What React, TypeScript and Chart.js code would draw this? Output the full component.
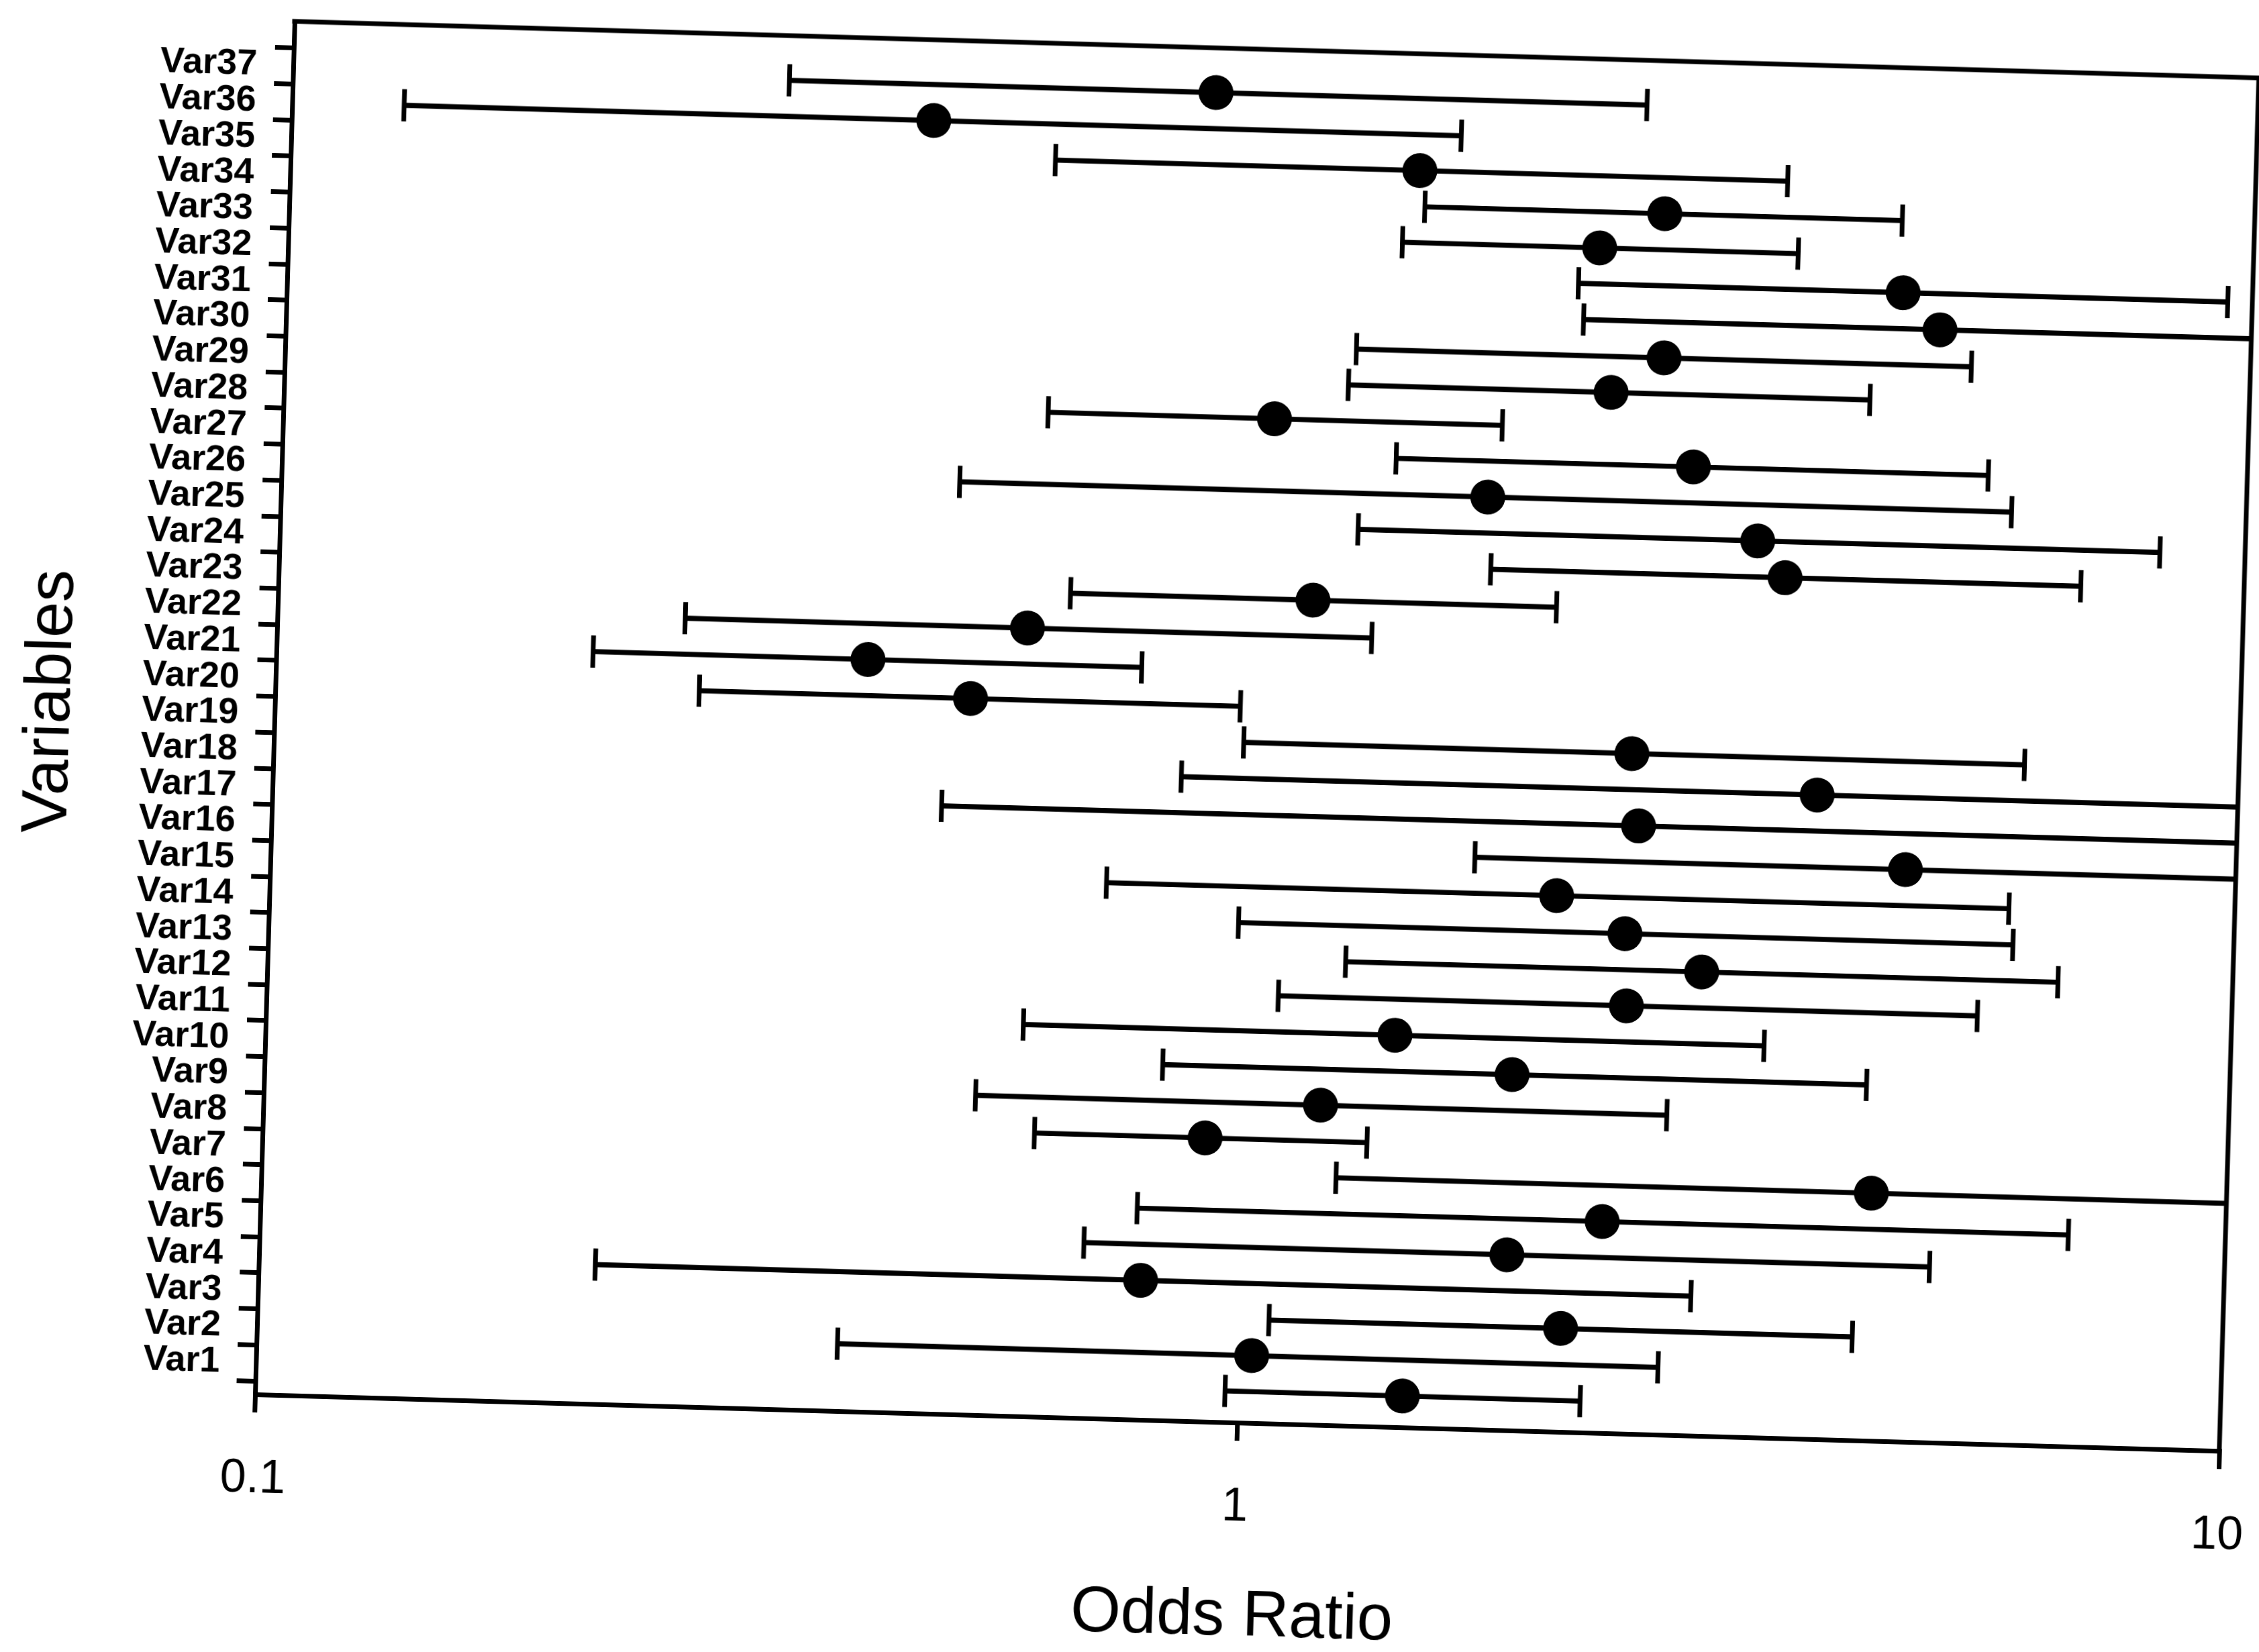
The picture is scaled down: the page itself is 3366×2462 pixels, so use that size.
import React, { useEffect, useRef } from "react";
import { Chart, registerables } from "chart.js";

Chart.register(...registerables);

// Variables, bottom (Var1) to top (Var37)
const CATEGORIES = [
  "Var1", "Var2", "Var3", "Var4", "Var5", "Var6", "Var7", "Var8", "Var9", "Var10",
  "Var11", "Var12", "Var13", "Var14", "Var15", "Var16", "Var17", "Var18", "Var19", "Var20",
  "Var21", "Var22", "Var23", "Var24", "Var25", "Var26", "Var27", "Var28", "Var29", "Var30",
  "Var31", "Var32", "Var33", "Var34", "Var35", "Var36", "Var37",
];

const ODDS_RATIO = [
  1.47, 1.03, 2.12, 0.79, 1.86, 2.32, 4.35, 0.91, 1.19, 1.86,
  1.41, 2.42, 2.88, 2.40, 2.04, 4.61, 2.46, 3.73, 2.41, 0.51,
  0.40, 0.58, 1.13, 3.41, 3.19, 1.69, 2.73, 1.02, 2.24, 2.53,
  4.82, 4.41, 2.16, 2.51, 1.41, 0.45, 0.87,
];

const CI_LOWER = [
  0.97, 0.39, 1.07, 0.22, 0.69, 0.78, 1.24, 0.61, 0.53, 0.82,
  0.59, 1.07, 1.25, 0.97, 0.71, 1.68, 0.48, 0.84, 0.97, 0.27,
  0.21, 0.26, 0.64, 1.71, 1.25, 0.49, 1.36, 0.60, 1.21, 1.23,
  2.09, 2.06, 1.36, 1.43, 0.60, 0.13, 0.32,
];

// 12 = interval runs past the right edge of the axis (truncated in the figure)
const CI_UPPER = [
  2.23, 2.67, 4.20, 2.87, 5.01, 6.92, 12, 1.33, 2.68, 4.27,
  3.35, 5.51, 6.64, 5.96, 5.89, 12, 12, 12, 6.05, 0.96,
  0.76, 1.30, 2.00, 6.82, 8.19, 5.77, 5.45, 1.74, 4.11, 5.20,
  12, 9.44, 3.44, 4.38, 3.34, 1.55, 2.39,
];

const X_TICKS = [0.1, 1, 10];
const X_TICK_LABELS = ["0.1", "1", "10"];

const FONT = "'Liberation Sans', Arial, Helvetica, sans-serif";

export default function App() {
  const ref = useRef<HTMLCanvasElement | null>(null);

  useEffect(() => {
    if (!ref.current) return;
    const rows = CATEGORIES.map((_, i) => i + 1);

    const framePlugin = {
      id: "frame",
      afterDatasetsDraw(chart: any) {
        const { ctx, chartArea: a } = chart;
        ctx.save();
        ctx.strokeStyle = "#000";
        ctx.lineWidth = 7;
        ctx.lineCap = "square";
        ctx.beginPath();
        ctx.moveTo(a.left, a.top);
        ctx.lineTo(a.right, a.top);
        ctx.lineTo(a.right, a.bottom);
        ctx.stroke();
        ctx.restore();
      },
    };

    const chart = new Chart(ref.current, {
      type: "scatter",
      data: {
        datasets: [
          {
            type: "scatter",
            label: "Odds ratio",
            data: rows.map((y, i) => ({ x: ODDS_RATIO[i], y })),
            pointStyle: "circle",
            pointRadius: 26,
            pointHoverRadius: 26,
            pointBackgroundColor: "#000",
            pointBorderColor: "#000",
            pointBorderWidth: 0,
            showLine: false,
          },
          {
            type: "scatter",
            label: "Lower",
            data: rows.map((y, i) => ({ x: CI_LOWER[i], y })),
            pointStyle: "line",
            pointRotation: 90,
            pointRadius: 24,
            pointHoverRadius: 24,
            pointBorderColor: "#000",
            pointBorderWidth: 7,
            showLine: false,
            clip: 0,
          },
          {
            type: "scatter",
            label: "Upper",
            data: rows.map((y, i) => ({ x: CI_UPPER[i], y })),
            pointStyle: "line",
            pointRotation: 90,
            pointRadius: 24,
            pointHoverRadius: 24,
            pointBorderColor: "#000",
            pointBorderWidth: 7,
            showLine: false,
            clip: 0,
          },
          {
            type: "bar",
            label: "CI",
            indexAxis: "y",
            data: rows.map((y, i) => ({ y, x: [CI_LOWER[i], CI_UPPER[i]] })),
            backgroundColor: "#000",
            borderWidth: 0,
            barThickness: 7,
            clip: 0,
          } as any,
        ],
      },
      options: {
        responsive: false,
        animation: false,
        devicePixelRatio: 1,
        events: [],
        layout: { padding: { top: 20, right: 58, bottom: 36, left: 0 } },
        plugins: { legend: { display: false }, tooltip: { enabled: false } },
        scales: {
          x: {
            type: "logarithmic",
            min: 0.1,
            max: 10,
            offset: false,
            afterBuildTicks: (s: any) => {
              s.ticks = X_TICKS.map((v) => ({ value: v }));
            },
            afterFit: (s: any) => {
              s.height = 348;
              s.paddingLeft = 0;
              s.paddingRight = 0;
            },
            ticks: {
              autoSkip: false,
              maxRotation: 0,
              minRotation: 0,
              padding: 58,
              color: "#000",
              font: { family: FONT, size: 70 },
              callback: (v: any) => {
                const i = X_TICKS.findIndex((t) => Math.abs(t - Number(v)) < 1e-9);
                return i >= 0 ? X_TICK_LABELS[i] : "";
              },
            },
            grid: {
              display: true,
              drawOnChartArea: false,
              drawTicks: true,
              tickLength: 27,
              lineWidth: 7,
              color: "#000",
            },
            border: { display: true, color: "#000", width: 7 },
            title: {
              display: true,
              text: "Odds Ratio",
              color: "#000",
              font: { family: FONT, size: 96, lineHeight: 1.2 },
              padding: 0,
            },
          },
          y: {
            type: "linear",
            min: 0.13,
            max: 38.24,
            offset: false,
            afterBuildTicks: (s: any) => {
              s.ticks = rows.map((v) => ({ value: v }));
            },
            afterFit: (s: any) => {
              s.width = 380;
              s.paddingTop = 0;
              s.paddingBottom = 0;
            },
            ticks: {
              autoSkip: false,
              padding: 26,
              color: "#000",
              font: { family: FONT, size: 54, weight: "bold" },
              callback: (v: any) => CATEGORIES[Math.round(Number(v)) - 1] ?? "",
            },
            grid: {
              display: true,
              drawOnChartArea: false,
              drawTicks: true,
              tickLength: 28,
              lineWidth: 7,
              color: "#000",
            },
            border: { display: true, color: "#000", width: 7 },
            title: {
              display: true,
              text: "Variables",
              color: "#000",
              font: { family: FONT, size: 96, lineHeight: 1 },
              padding: 0,
            },
          },
        },
      } as any,
      plugins: [framePlugin],
    });

    return () => chart.destroy();
  }, []);

  return (
    <div
      style={{
        position: "fixed",
        left: 0,
        top: 0,
        width: 3366,
        height: 2462,
        overflow: "hidden",
        background: "#fff",
      }}
    >
      <canvas
        ref={ref}
        width={3366}
        height={2462}
        style={{
          position: "absolute",
          left: 0,
          top: 0,
          width: 3366,
          height: 2462,
          transformOrigin: "380px 2078px",
          transform: "rotate(1.65deg)",
        }}
      />
    </div>
  );
}
